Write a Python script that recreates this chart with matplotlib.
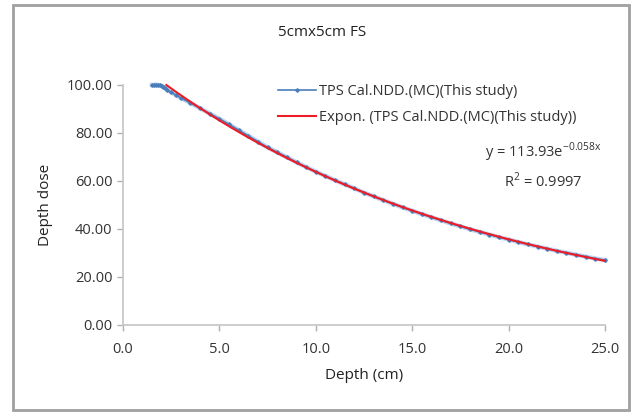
import numpy as np
import matplotlib.pyplot as plt
from matplotlib.patches import Rectangle

# measured percentage depth dose, 5cm x 5cm field
depth = [1.5, 1.6, 1.7, 1.8, 1.9, 2.0, 2.1, 2.2, 2.3, 2.5, 2.75, 3.0, 3.5, 4.0, 4.5,
         5.0, 5.5, 6.0, 6.5, 7.0, 7.5, 8.0, 8.5, 9.0, 9.5, 10.0, 10.5, 11.0, 11.5,
         12.0, 12.5, 13.0, 13.5, 14.0, 14.5, 15.0, 15.5, 16.0, 16.5, 17.0, 17.5,
         18.0, 18.5, 19.0, 19.5, 20.0, 20.5, 21.0, 21.5, 22.0, 22.5, 23.0, 23.5,
         24.0, 24.5, 25.0]
dose = [100.0, 100.0, 100.2, 100.0, 99.9, 99.6, 99.2, 98.6, 97.9, 96.9, 95.8, 94.6,
        92.5, 90.3, 88.1, 85.9, 83.6, 81.2, 78.8, 76.4, 74.0, 72.0, 69.9, 67.8, 65.8,
        63.9, 62.1, 60.3, 58.6, 56.9, 55.2, 53.6, 52.0, 50.5, 49.0, 47.6, 46.2, 44.9,
        43.6, 42.3, 41.1, 39.9, 38.8, 37.7, 36.6, 35.6, 34.6, 33.6, 32.7, 31.8, 30.9,
        30.1, 29.3, 28.5, 27.7, 27.0]

# exponential trendline
fit_a = 113.93
fit_b = -0.058
fit_start = 2.25

xticks = [0.0, 5.0, 10.0, 15.0, 20.0, 25.0]
yticks = [0.0, 20.0, 40.0, 60.0, 80.0, 100.0]

plt.rcParams['font.family'] = ['Open Sans', 'DejaVu Sans']

W, H = 633, 413
fig = plt.figure(figsize=(W / 100, H / 100), dpi=100)
ax = fig.add_axes([123 / W, 1 - 325 / H, (605 - 123) / W, (325 - 85) / H])

grey = '#b0b0b0'
txt = '#333333'
ax.plot(depth, dose, color='#a9c4e8', lw=3.2, alpha=0.7, zorder=2, clip_on=False)
ax.plot(depth, dose, color='#4a7ebb', lw=1.2, marker='D', ms=1.8,
        label='TPS Cal.NDD.(MC)(This study)', zorder=3, clip_on=False)

xf = np.linspace(fit_start, 25.0, 200)
ax.plot(xf, fit_a * np.exp(fit_b * xf), color='#ee1c25', lw=1.5,
        label='Expon. (TPS Cal.NDD.(MC)(This study))', zorder=4, clip_on=False)

ax.set_xlim(0, 25)
ax.set_ylim(0, 100)
ax.set_xticks(xticks)
ax.set_yticks(yticks)
ax.set_xticklabels(['%.1f' % v for v in xticks])
ax.set_yticklabels(['%.2f' % v for v in yticks])
ax.tick_params(labelsize=10.5, colors=grey, labelcolor=txt, length=4, width=1)
ax.tick_params(axis='x', pad=8)
for side in ['top', 'right']:
    ax.spines[side].set_visible(False)
for side in ['left', 'bottom']:
    ax.spines[side].set_color('#c8c8c8')
    ax.spines[side].set_linewidth(1.3)

ax.set_xlabel('Depth (cm)', fontsize=11, color='#222222', labelpad=8)
ax.set_ylabel('Depth dose', fontsize=11, color='#222222', labelpad=10)
fig.text(322 / W, 1 - 33 / H, '5cmx5cm FS', fontsize=11, color='#222222',
         ha='center', va='center')

ax.legend(loc='upper left', bbox_to_anchor=(0.295, 1.06), frameon=False,
          fontsize=10.5, handlelength=2.6, handletextpad=0.2, labelspacing=0.8,
          labelcolor=txt)

ax.text((543 - 123) / 482, (325 - 166) / 240,
        'y = 113.93e$^{\\mathregular{-0.058x}}$\nR$^{\\mathregular{2}}$ = 0.9997',
        transform=ax.transAxes, fontsize=10.5, color=txt, ha='center', va='center',
        linespacing=1.5)

fig.add_artist(Rectangle((13 / W, 3 / H), 616 / W, 405 / H,
                         transform=fig.transFigure, fill=False,
                         edgecolor='#a0a0a0', lw=2))

fig.savefig('out.png', dpi=100)
